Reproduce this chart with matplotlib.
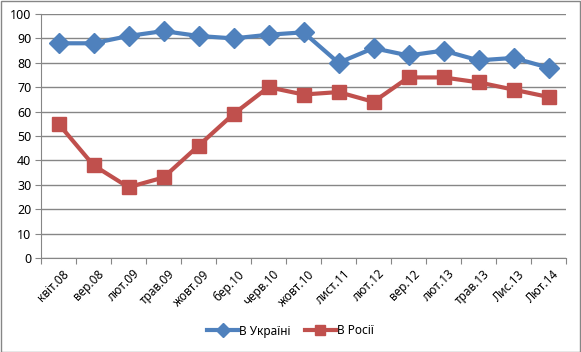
import matplotlib
matplotlib.use("Agg")
import matplotlib.pyplot as plt
import numpy as np

plt.rcParams['font.family'] = ['Noto Sans', 'DejaVu Sans']

# data
months = ['квіт.08', 'вер.08', 'лют.09', 'трав.09', 'жовт.09', 'бер.10', 'черв.10',
          'жовт.10', 'лист.11', 'лют.12', 'вер.12', 'лют.13', 'трав.13', 'Лис.13', 'Лют.14']
ukraine = [88, 88, 91, 93, 91, 90, 91.5, 92.5, 80, 86, 83, 85, 81, 82, 78]
russia = [55, 38, 29, 33, 46, 59, 70, 67, 68, 64, 74, 74, 72, 69, 66]

fig = plt.figure(figsize=(5.81, 3.52), dpi=100)
ax = fig.add_axes([41/581, 1 - 258/352, 525/581, 244/352])

x = np.arange(len(months))
ax.plot(x, ukraine, color='#4F81BD', lw=3, marker='D', markersize=10,
        label='В Україні', zorder=3)
ax.plot(x, russia, color='#C0504D', lw=3, marker='s', markersize=10,
        label='В Росії', zorder=3)

ax.set_xlim(-0.5, len(months) - 0.5)
ax.set_ylim(0, 100)
ax.set_yticks(range(0, 101, 10))
ax.yaxis.grid(True, color='#868686', lw=1)
ax.set_axisbelow(True)

ax.set_xticks(np.arange(-0.5, len(months), 1))
ax.set_xticklabels([])
ax.set_xticks(x + 0.12, minor=True)
ax.set_xticklabels(months, minor=True, rotation=45, ha='right',
                   rotation_mode='anchor', fontsize=8.5)
ax.tick_params(axis='x', which='minor', length=0, pad=7)
ax.tick_params(axis='x', which='major', length=4, color='#868686')
ax.tick_params(axis='y', length=4, color='#868686', labelsize=9, pad=3)

for s in ['top', 'right']:
    ax.spines[s].set_visible(False)
for s in ['left', 'bottom']:
    ax.spines[s].set_color('#868686')

fig.legend(loc='center', bbox_to_anchor=(0.5, 1 - 331/352), ncol=2,
           frameon=False, fontsize=8.5, handlelength=2.6, handletextpad=0.1,
           columnspacing=1.2, markerscale=0.75)

border = plt.Rectangle((0.5/581, 0.5/352), 1 - 1.5/581, 1 - 1.5/352,
                       transform=fig.transFigure, fill=False,
                       edgecolor='#868686', lw=1)
fig.patches.append(border)

fig.savefig('out.png', dpi=100)
